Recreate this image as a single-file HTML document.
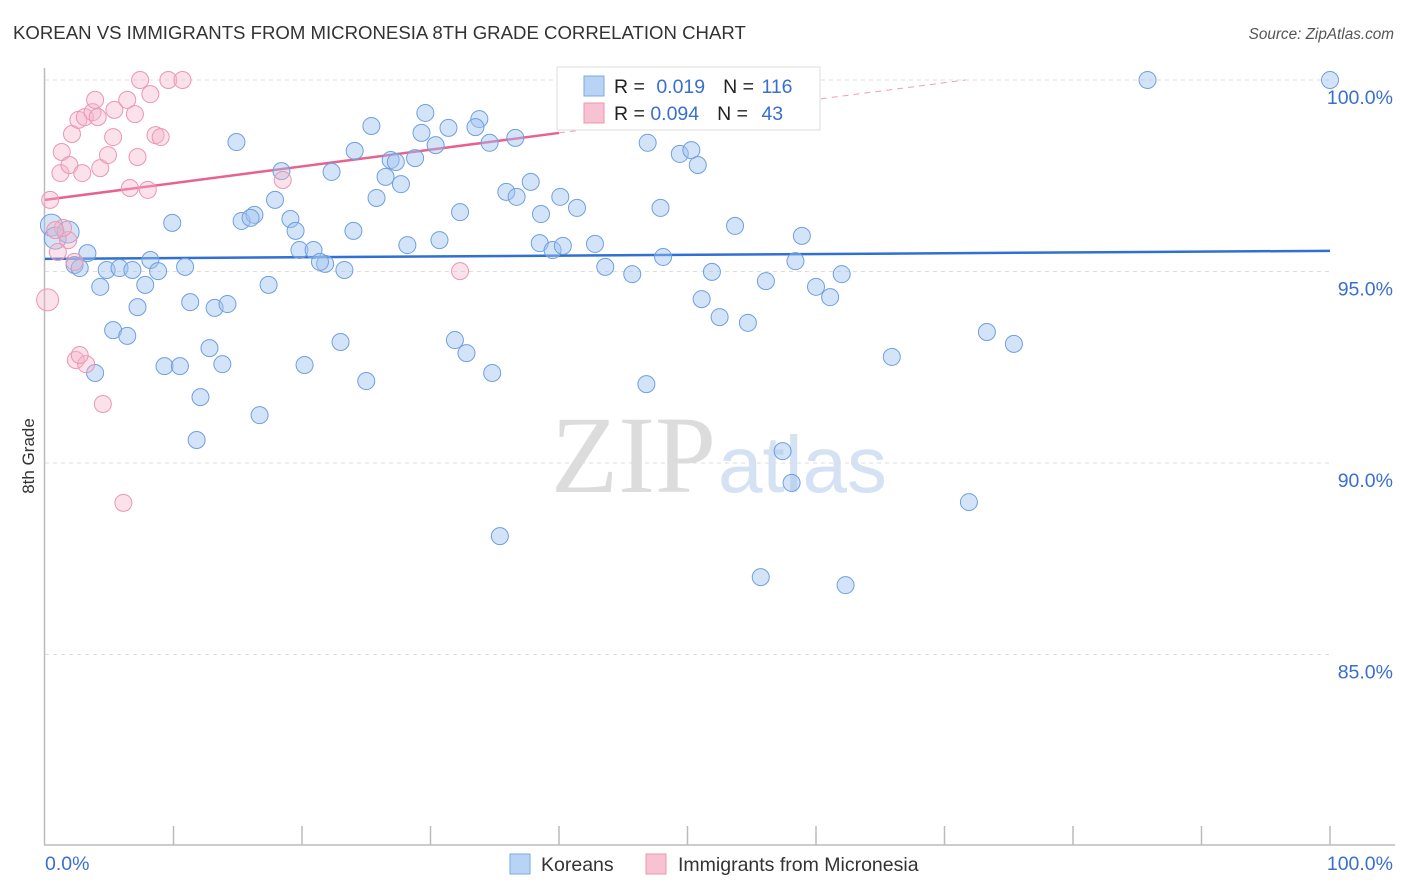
<!DOCTYPE html>
<html><head><meta charset="utf-8"><style>
body{margin:0;background:#fff;font-family:"Liberation Sans",sans-serif}
svg{display:block}
</style></head><body>
<svg id="chart" width="1406" height="892" xmlns="http://www.w3.org/2000/svg">
<text x="13" y="39" font-size="18.6" fill="#333">KOREAN VS IMMIGRANTS FROM MICRONESIA 8TH GRADE CORRELATION CHART</text>
<text x="1394" y="39" font-size="15.3" fill="#555" font-style="italic" text-anchor="end">Source: ZipAtlas.com</text>
<text x="34" y="456" font-size="17" fill="#333" transform="rotate(-90 34 456)" text-anchor="middle">8th Grade</text>
<text x="716" y="492" font-size="110" fill="#dcdcdc" font-family="Liberation Serif,serif" text-anchor="end">ZIP</text>
<text x="718" y="492" font-size="80" fill="#d5e2f3" text-anchor="start">atlas</text>
<g id="grid"></g><g id="axes"></g><g id="trends"></g><g id="pts"></g>
<g>
<rect x="557" y="67" width="263" height="63" fill="#fff" stroke="#ddd"/>
<rect x="584" y="76" width="20" height="20" fill="#b9d3f5" stroke="#7ea9e6"/>
<rect x="584" y="103" width="20" height="20" fill="#f7c2d2" stroke="#ee94b0"/>
<text x="614" y="93" font-size="19.5" fill="#222">R = <tspan fill="#3a6fd0" dx="6">0.019</tspan><tspan fill="#222" dx="18">N = </tspan><tspan fill="#3a6fd0" dx="2">116</tspan></text>
<text x="614" y="120" font-size="19.5" fill="#222">R = <tspan fill="#3a6fd0" dx="0">0.094</tspan><tspan fill="#222" dx="18">N = </tspan><tspan fill="#3a6fd0" dx="8">43</tspan></text>
</g>
<g>
<rect x="510" y="854" width="20" height="20" fill="#b9d3f5" stroke="#7ea9e6"/>
<text x="541" y="871" font-size="19.5" fill="#333">Koreans</text>
<rect x="646" y="854" width="20" height="20" fill="#f7c2d2" stroke="#ee94b0"/>
<text x="678" y="871" font-size="19.5" fill="#333">Immigrants from Micronesia</text>
</g>
</svg>
<script>
const yTicks=[100,95,90,85];
const yTickLabels=["100.0%","95.0%","90.0%","85.0%"];
const xTickLabels=["0.0%","100.0%"];
const koreanX=[0.5,0.8,1.8,2.3,3.3,2.7,4.3,4.8,5.8,6.8,8.2,8.8,7.8,7.2,5.3,6.4,3.9,9.9,10.9,11.3,13.2,14.2,12.8,9.3,10.5,13.8,12.1,11.8,14.9,15.3,16.3,16.0,17.4,16.7,17.9,18.4,19.1,19.5,19.8,20.9,21.8,21.4,23.3,20.2,23.0,25.0,22.3,24.1,24.0,25.4,25.8,26.5,26.9,27.3,27.7,28.2,28.8,29.6,29.3,30.4,31.4,30.7,32.3,31.9,32.8,33.8,33.5,34.6,36.6,35.9,36.7,37.8,38.6,38.5,39.5,40.3,40.1,41.4,42.8,43.6,34.8,35.4,40.8,46.9,47.9,48.1,45.7,46.8,48.8,49.4,50.3,50.8,51.9,51.1,52.5,54.7,54.2,53.7,56.1,58.4,58.9,60.0,61.1,62.0,65.9,57.4,58.1,55.7,62.3,71.9,73.3,75.4,85.8,100];
const koreanY=[96.21,95.87,96.03,95.17,95.48,95.09,94.60,95.04,95.09,95.04,95.30,95.01,94.65,94.07,93.47,93.32,92.35,96.27,95.12,94.20,94.05,94.15,93.00,92.53,92.53,92.58,91.72,90.60,98.38,96.32,96.48,96.40,94.65,91.25,96.87,97.62,96.37,96.06,95.56,95.56,95.20,95.25,95.04,92.56,93.16,92.14,97.60,98.15,96.06,98.80,96.92,97.47,97.91,97.86,97.28,95.69,97.96,99.14,98.62,98.30,98.75,95.82,96.55,93.21,92.87,98.98,98.77,98.36,98.49,97.08,96.95,97.34,96.50,95.74,95.56,95.67,96.95,96.66,95.72,95.12,92.35,88.09,100,98.36,96.66,95.38,94.93,92.06,100,98.07,98.17,97.78,94.99,94.28,93.81,93.66,100,96.19,94.75,95.27,95.93,94.60,94.33,94.93,92.77,90.31,89.48,87.02,86.81,88.98,93.42,93.11,100,100];
const microX=[0.4,0.2,1.3,1.2,1.9,2.1,2.6,3.1,2.9,2.3,1.8,1.4,1.0,3.7,3.9,4.1,4.3,4.9,5.3,5.4,6.4,6.6,7.2,7.0,7.4,8.0,8.2,8.6,9.0,9.6,10.7,2.4,3.2,2.7,4.5,6.1,18.5,32.3,0.8];
const microY=[96.87,94.26,98.12,97.57,97.78,98.59,98.96,99.03,97.57,95.25,95.82,96.14,95.51,99.16,99.48,99.03,97.70,98.04,98.51,99.22,99.48,97.18,97.99,99.11,100,97.13,99.63,98.56,98.51,100,100,92.69,92.58,92.82,91.54,88.96,97.39,95.01,96.08];
const koreanTrend=[95.33,95.54];
const microTrend=[96.87,0.0437];
const NS="http://www.w3.org/2000/svg";
const sx=v=>45+v*12.85, sy=v=>80+(100-v)*38.3;
function mk(tag,attrs,parent){const e=document.createElementNS(NS,tag);for(const k in attrs)e.setAttribute(k,attrs[k]);document.getElementById(parent).appendChild(e);return e;}
yTicks.forEach((t,i)=>{
 const l=mk('line',{x1:45,x2:1330,y1:sy(t),y2:sy(t),stroke:'#ddd','stroke-dasharray':'4,4'},'grid');
 
 
 const tx=mk('text',{x:1393,y:sy(t)+24,'font-size':19.5,fill:'#3a6fd0','text-anchor':'end'},'grid');
 tx.textContent=yTickLabels[i];
 
 
});
const ax=mk('line',{x1:44.5,x2:44.5,y1:68,y2:845,stroke:'#bbb','stroke-width':1.5},'axes');


const bx=mk('line',{x1:44,x2:1395,y1:845,y2:845,stroke:'#bbb','stroke-width':1.5},'axes');


for(let i=1;i<=10;i++){const t=mk('line',{x1:sx(i*10),x2:sx(i*10),y1:826,y2:845,stroke:'#bbb','stroke-width':1.5},'axes');
 
 }
[[0,45,'start'],[1,1393,'end']].forEach(([i,x,a])=>{const t=mk('text',{x:x,y:870,'font-size':19.5,fill:'#3a6fd0','text-anchor':a},'axes');t.textContent=xTickLabels[i];
 
 });
const kt=mk('line',{x1:sx(0),x2:sx(100),y1:sy(koreanTrend[0]),y2:sy(koreanTrend[1]),stroke:'#2f6fd6','stroke-width':2.5},'trends');


const mEnd=(100-microTrend[0])/microTrend[1];
const mt=mk('line',{x1:sx(0),x2:sx(40),y1:sy(microTrend[0]),y2:sy(microTrend[0]+40*microTrend[1]),stroke:'#e8628f','stroke-width':2.5},'trends');


const md=mk('line',{x1:sx(40),x2:sx(mEnd),y1:sy(microTrend[0]+40*microTrend[1]),y2:sy(100),stroke:'#e8a0b8','stroke-width':1,'stroke-dasharray':'6,5'},'trends');


koreanX.forEach((x,i)=>{const c=mk('circle',{cx:sx(x),cy:sy(koreanY[i]),r:i<3?11:8.5,fill:'rgba(160,196,240,0.45)',stroke:'#6f9fe0','stroke-width':1},'pts');
 
 });
microX.forEach((x,i)=>{const c=mk('circle',{cx:sx(x),cy:sy(microY[i]),r:(i==1)?11:8.5,fill:'rgba(245,180,200,0.4)',stroke:'#ec96b2','stroke-width':1},'pts');
 
 });
</script>
</body></html>
